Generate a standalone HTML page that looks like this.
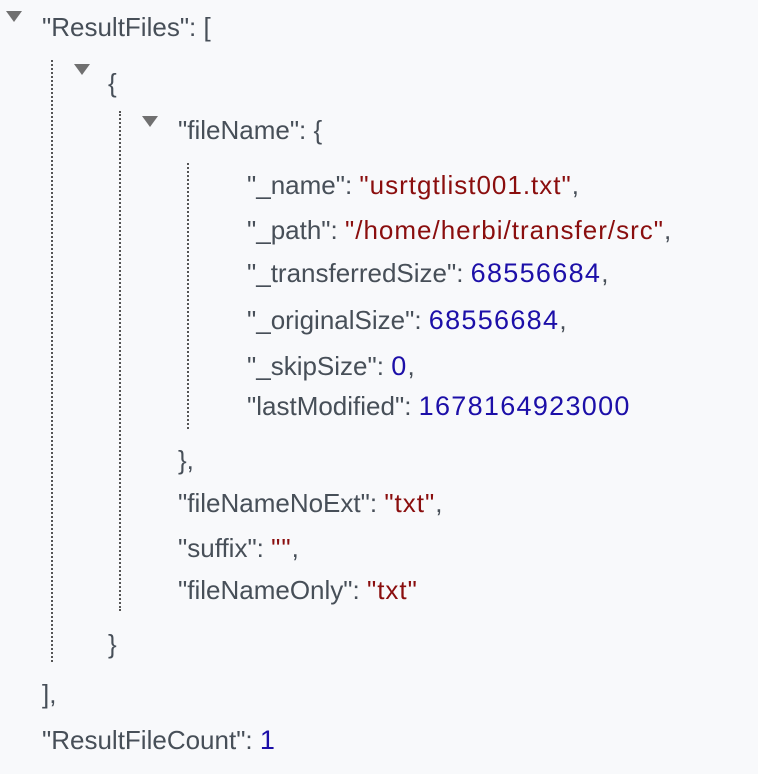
<!DOCTYPE html>
<html><head><meta charset="utf-8"><style>
html,body{margin:0;padding:0}
body{width:758px;height:774px;background:#f8f9fb;position:relative;overflow:hidden;font-family:"Liberation Sans",sans-serif;font-size:26px;color:#474f58}
.l{position:absolute;white-space:nowrap;line-height:32px;letter-spacing:0}
.s{color:#8a0e0e;letter-spacing:1px}
.n{color:#1c0fa8;font-size:27px;letter-spacing:1.3px}
.t{position:absolute;width:0;height:0;border-left:8px solid transparent;border-right:8px solid transparent;border-top:11px solid #707070}
.d{position:absolute;width:0;border-left:2px dotted #555}
</style></head><body>
<div class="t" style="left:6px;top:11px"></div>
<div class="t" style="left:74px;top:64px"></div>
<div class="t" style="left:142px;top:116px"></div>
<div class="d" style="left:51px;top:60px;height:602px"></div>
<div class="d" style="left:119px;top:111px;height:500px"></div>
<div class="d" style="left:187px;top:163px;height:266px"></div>
<div class="l" style="left:42px;top:11px">"ResultFiles": [</div>
<div class="l" style="left:108px;top:67px">{</div>
<div class="l" style="left:178px;top:114px">"fileName": {</div>
<div class="l" style="left:247px;top:169px">"_name": <span class="s">"usrtgtlist001.txt"</span>,</div>
<div class="l" style="left:247px;top:214px">"_path": <span class="s">"/home/herbi/transfer/src"</span>,</div>
<div class="l" style="left:247px;top:257px">"_transferredSize": <span class="n">68556684</span>,</div>
<div class="l" style="left:247px;top:304px">"_originalSize": <span class="n">68556684</span>,</div>
<div class="l" style="left:247px;top:350px">"_skipSize": <span class="n">0</span>,</div>
<div class="l" style="left:247px;top:390px">"lastModified": <span class="n">1678164923000</span></div>
<div class="l" style="left:178px;top:444px">},</div>
<div class="l" style="left:178px;top:487px">"fileNameNoExt": <span class="s">"txt"</span>,</div>
<div class="l" style="left:178px;top:532px">"suffix": <span class="s">""</span>,</div>
<div class="l" style="left:178px;top:574px">"fileNameOnly": <span class="s">"txt"</span></div>
<div class="l" style="left:108px;top:628px">}</div>
<div class="l" style="left:42px;top:678px">],</div>
<div class="l" style="left:42px;top:724px">"ResultFileCount": <span class="n">1</span></div>
</body></html>
